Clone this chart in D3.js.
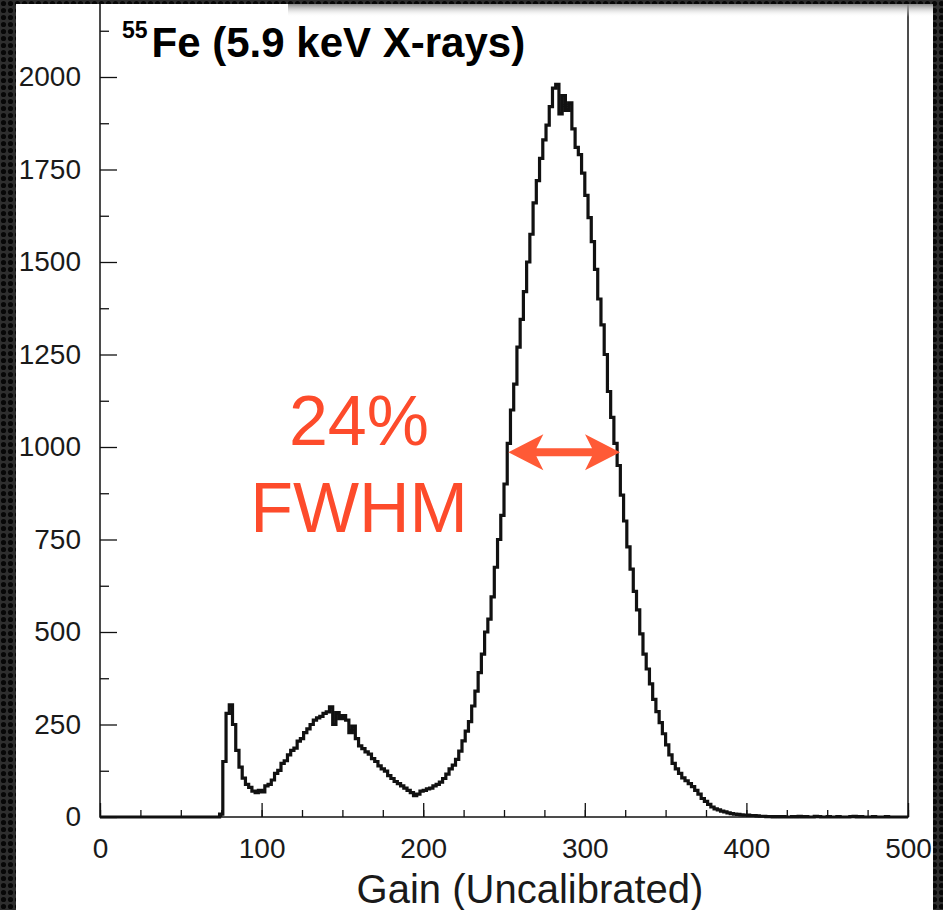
<!DOCTYPE html>
<html>
<head>
<meta charset="utf-8">
<script src="https://cdn.jsdelivr.net/npm/d3@7"></script>
<style>
  body { margin: 0; background: #111; }
  svg { display: block; }
</style>
</head>
<body>
<svg id="chart"></svg>
<script>
// histogram: 2-unit gain bins starting at 0
var binWidth = 2;
var counts = [
  0,0,0,0,0,0,0,0,0,0, 0,0,0,0,0,0,0,0,0,0, 0,0,0,0,0,0,0,0,0,0, 0,0,0,0,0,0,0,
  8,150,280,303,250,180,135,105,88,80,
  70,66,72,68,84,88,100,118,126,145,
  152,168,180,186,205,212,228,238,250,262,
  268,272,280,284,298,250,282,266,274,262,
  228,246,212,192,185,176,170,158,150,138,
  130,124,112,104,96,90,84,78,72,66,
  58,62,70,72,76,78,84,88,94,104,
  116,130,140,156,178,206,232,258,300,340,
  390,440,500,535,595,675,750,815,900,1010,
  1100,1170,1270,1345,1420,1500,1575,1660,1720,1780,
  1830,1870,1920,1970,1980,1900,1950,1910,1930,1860,
  1810,1790,1740,1680,1620,1555,1480,1400,1330,1250,
  1150,1080,1010,950,870,800,730,670,610,560,
  495,440,400,360,318,285,255,225,195,168,
  145,130,118,106,98,90,82,72,62,50,
  42,34,27,22,19,16,14,11,9,8,
  7,6,5,5,4,4,3,2,2,1,
  1,0,1,0,1,0,0,1,0,2, 0,1,0,0,2,1,0,0,1,0, 0,1,0,0,0,1,2,0,1,0,
  0,0,1,0,0,0,1,0,0,0, 0,0,0
];

var xMajor = [0, 100, 200, 300, 400, 500];
var xMinor = d3.range(0, 501, 25);
var yMajor = [0, 250, 500, 750, 1000, 1250, 1500, 1750, 2000];
var yMinor = d3.range(125, 2200, 250);

// FWHM marker (gain low/high at half maximum)
var fwhmLow = 252.7, fwhmHigh = 321.8, halfMax = 986;
var fwhmText = ["24%", "FWHM"];

var svgWidth = 943, svgHeight = 910;
var svg = d3.select('#chart')
  .attr('width', svgWidth)
  .attr('height', svgHeight);

var defs = svg.append('defs');
var pat = defs.append('pattern')
  .attr('id', 'leather')
  .attr('width', 7).attr('height', 7)
  .attr('patternUnits', 'userSpaceOnUse');
pat.append('rect').attr('width', 7).attr('height', 7).attr('fill', '#2e2e2e');
pat.append('circle').attr('cx', 3.5).attr('cy', 3.5).attr('r', 2.6).attr('fill', '#070707');

var shade = defs.append('linearGradient')
  .attr('id', 'shade').attr('x1', 0).attr('y1', 0).attr('x2', 0).attr('y2', 1);
shade.append('stop').attr('offset', '0%').attr('stop-color', '#8a8a8a');
shade.append('stop').attr('offset', '100%').attr('stop-color', '#ffffff').attr('stop-opacity', 0);

// white slide panel
svg.append('rect')
  .attr('width', svgWidth).attr('height', svgHeight)
  .attr('fill', '#ffffff');

var x = d3.scaleLinear().domain([0, 500]).range([100, 908]);
var y = d3.scaleLinear().domain([0, 2200]).range([817, 3]);

var font = "'Liberation Sans', Helvetica, Arial, sans-serif";

/* axes */
var yAxisMinor = g => g
  .attr('transform', 'translate(' + x(0) + ',0)')
  .call(d3.axisLeft(y).tickValues(yMinor).tickSize(-9).tickFormat(''))
  .call(g => g.select('.domain').remove());

var yAxis = g => g
  .attr('transform', 'translate(' + x(0) + ',0)')
  .call(d3.axisLeft(y).tickValues(yMajor).tickSize(-17).tickPadding(19).tickFormat(d3.format('d')))
  .call(g => g.select('.domain').remove());

var xAxisMinor = g => g
  .attr('transform', 'translate(0,' + y(0) + ')')
  .call(d3.axisBottom(x).tickValues(xMinor).tickSize(-7).tickFormat(''))
  .call(g => g.select('.domain').remove());

var xAxis = g => g
  .attr('transform', 'translate(0,' + y(0) + ')')
  .call(d3.axisBottom(x).tickValues(xMajor).tickSize(-14).tickPadding(21).tickFormat(d3.format('d')))
  .call(g => g.select('.domain').remove());

svg.append('g').call(yAxisMinor);
svg.append('g').call(xAxisMinor);
svg.append('g').attr('class', 'ax').call(yAxis);
svg.append('g').attr('class', 'ax').call(xAxis);

svg.selectAll('.tick line').attr('stroke', '#111').attr('stroke-width', 1.3);
svg.selectAll('.ax text')
  .attr('font-family', font)
  .attr('font-size', 28)
  .attr('fill', '#1a1a1a');

// frame
svg.append('rect')
  .attr('x', x(0)).attr('y', y(2200))
  .attr('width', x(500) - x(0)).attr('height', y(0) - y(2200))
  .attr('fill', 'none')
  .attr('stroke', '#111')
  .attr('stroke-width', 1.5);

/* histogram as steps */
var pts = counts.map((c, i) => [i * binWidth, c]);
pts.push([counts.length * binWidth, counts[counts.length - 1]]);

var line = d3.line()
  .x(d => x(d[0]))
  .y(d => y(d[1]))
  .curve(d3.curveStepAfter);

svg.append('path')
  .datum(pts)
  .attr('fill', 'none')
  .attr('stroke', '#111')
  .attr('stroke-width', 3.2)
  .attr('stroke-linejoin', 'miter')
  .attr('d', line);

/* title */
var title = svg.append('text')
  .attr('x', 122).attr('y', 57)
  .attr('font-family', font)
  .attr('font-weight', 'bold')
  .attr('fill', '#000');
title.append('tspan').attr('font-size', 23).attr('dy', -19).text('55');
title.append('tspan').attr('font-size', 42).attr('dy', 19).attr('dx', 4).text('Fe (5.9 keV X-rays)');

/* x title */
svg.append('text')
  .attr('x', 530).attr('y', 903)
  .attr('text-anchor', 'middle')
  .attr('font-family', font)
  .attr('font-size', 40)
  .attr('fill', '#1a1a1a')
  .text('Gain (Uncalibrated)');

/* FWHM annotation */
var red = '#fd4b2b';
svg.selectAll('.fwhm')
  .data(fwhmText)
  .enter().append('text')
  .attr('class', 'fwhm')
  .attr('x', 359)
  .attr('y', (d, i) => 445 + i * 87)
  .attr('text-anchor', 'middle')
  .attr('font-family', font)
  .attr('font-size', 70)
  .attr('fill', red)
  .text(d => d);

var ax0 = x(fwhmLow), ax1 = x(fwhmHigh), ay = y(halfMax);
var head = 35, half = 18, notch = 28, shaft = 4;
var arrow = [
  [ax0, ay],
  [ax0 + head, ay - half],
  [ax0 + notch, ay - shaft],
  [ax1 - notch, ay - shaft],
  [ax1 - head, ay - half],
  [ax1, ay],
  [ax1 - head, ay + half],
  [ax1 - notch, ay + shaft],
  [ax0 + notch, ay + shaft],
  [ax0 + head, ay + half]
];
svg.append('path')
  .attr('d', 'M' + arrow.map(p => p.join(',')).join('L') + 'Z')
  .attr('fill', '#ff5a36');

/* top shadow and dark slide borders */
svg.append('rect')
  .attr('x', 288).attr('y', 4).attr('width', 645).attr('height', 13)
  .attr('fill', 'url(#shade)');
svg.append('rect').attr('x', 0).attr('y', 0).attr('width', 16).attr('height', svgHeight).attr('fill', 'url(#leather)');
svg.append('rect').attr('x', 0).attr('y', 0).attr('width', svgWidth).attr('height', 4).attr('fill', 'url(#leather)');
svg.append('rect').attr('x', 933).attr('y', 0).attr('width', 10).attr('height', svgHeight).attr('fill', 'url(#leather)');
</script>
</body>
</html>
